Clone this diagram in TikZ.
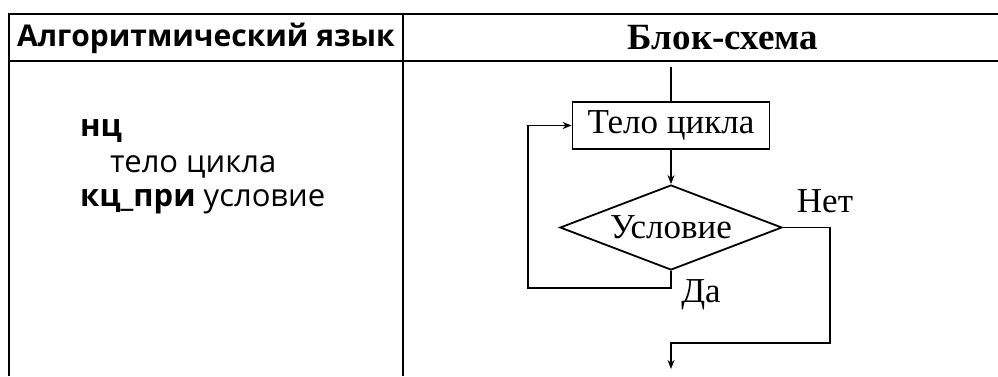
\documentclass[tikz,border=0pt]{standalone}
\usepackage{fontspec}
\setmainfont{Liberation Serif}
\newfontfamily\codesans{Open Sans}
\usetikzlibrary{arrows.meta,shapes.geometric}
\tikzset{
  tbl/.style={line width=2pt},
  flow/.style={line width=1.8pt},
  arr/.style={flow,-{Stealth[length=9pt,width=7pt]}},
  procbox/.style={draw,flow,rectangle,minimum width=197pt,minimum height=47pt,inner sep=0pt,font=\fontsize{35}{35}\selectfont},
  decbox/.style={draw,flow,diamond,aspect=2.6,minimum width=222pt,minimum height=85pt,inner sep=0pt,font=\fontsize{35}{35}\selectfont},
  serifhead/.style={inner sep=0pt,font=\fontsize{37}{37}\selectfont\bfseries},
  sanshead/.style={inner sep=0pt,font=\codesans\fontsize{30}{30}\selectfont\bfseries},
  code/.style={inner sep=0pt,anchor=base west,font=\codesans\fontsize{31}{31}\selectfont},
  lbl/.style={inner sep=0pt,font=\fontsize{35}{35}\selectfont}
}
\begin{document}
\begin{tikzpicture}[x=1pt,y=-1pt]
\useasboundingbox (0,0) rectangle (998,376);
% table
\coordinate (tl) at (9,14);
\coordinate (tr) at (998,14);
\coordinate (hl) at (9,61);
\coordinate (hr) at (998,61);
\coordinate (bl) at (9,376);
\coordinate (dt) at (403,14);
\coordinate (db) at (403,376);
\draw[tbl] (tr) -- (tl) -- (bl);
\draw[tbl] (hl) -- (hr);
\draw[tbl] (dt) -- (db);
\node[sanshead] (h1) at (206,38) {Алгоритмический язык};
\node[serifhead] (h2) at (723,38) {Блок-схема};
% left code
\node[code] (c1) at (80,136) {\bfseries нц};
\node[code] (c2) at (110,172) {тело цикла};
\node[code] (c3) at (80,206) {\bfseries кц\_при\mdseries{} условие};
% flowchart
\node[procbox] (body) at (671,125.5) {Тело цикла};
\node[decbox] (cond) at (671,227.5) {Условие};
\coordinate (top) at (671,67);
\coordinate (yl) at (671,288);
\coordinate (yl2) at (528,288);
\coordinate (yl3) at (528,125.5);
\coordinate (nr) at (830,227.5);
\coordinate (nr2) at (830,343);
\coordinate (nr3) at (671,343);
\coordinate (out) at (671,369);
\draw[flow] (top) -- (body.north);
\draw[arr] (body.south) -- (cond.north);
\draw[arr] (cond.south) -- (yl) -- (yl2) -- (yl3) -- (body.west);
\draw[arr] (cond.east) -- (nr) -- (nr2) -- (nr3) -- (out);
\node[lbl] (no) at (825,201) {Нет};
\node[lbl] (yes) at (701,295) {Да};
\end{tikzpicture}
\end{document}
